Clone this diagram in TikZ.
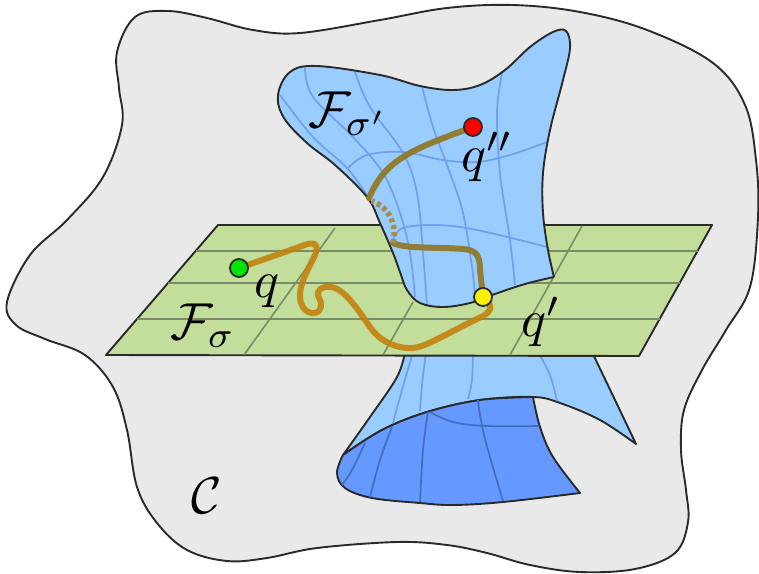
\documentclass[tikz,border=0pt]{standalone}
\definecolor{graybg}{HTML}{E9E9E9}
\definecolor{planeg}{HTML}{C3DD9A}
\definecolor{bluel}{HTML}{99CCFF}
\definecolor{blued}{HTML}{6699FF}
\definecolor{gridb}{HTML}{6F9FEE}
\definecolor{gridd}{HTML}{436EB8}
\definecolor{gridp}{HTML}{7A8C66}
\definecolor{outl}{HTML}{2A2A2A}
\definecolor{tanp}{HTML}{C4820F}
\definecolor{tanb}{HTML}{8F7A2A}
\definecolor{tand}{HTML}{A88C48}
\tikzset{
  edge/.style={draw=outl,line width=1.9pt,line join=round},
  gridblue/.style={draw=gridb,line width=1.7pt},
  griddark/.style={draw=gridd,line width=1.7pt},
  gridplane/.style={draw=gridp,line width=1.6pt},
  pathplane/.style={draw=tanp,line width=6pt,line cap=round,line join=round,opacity=.9},
  pathblue/.style={draw=tanb,line width=6pt,line cap=round,line join=round,opacity=.95},
  pathdot/.style={draw=tand,line width=5.5pt,dash pattern=on 4pt off 3pt},
  dotnode/.style={circle,draw=outl,line width=1.8pt,minimum size=18pt,inner sep=0pt},
  lab/.style={scale=5.2,inner sep=0pt,text=black},
  sm/.style={smooth,tension=.6},
  upperoutline/.style={insert path={plot[sm] coordinates {(554,277) (525,284) (492,295) (470,303) (443,307) (420,303) (407,290) (400,272) (393,253) (380,223) (367,197) (335,165) (307,143) (284,118) (278,95) (290,72) (317,66) (380,75) (420,86) (453,90) (480,85) (505,70) (530,47) (553,32) (566,31) (570,48) (563,80) (550,130) (543,173) (543,213) (548,250) (554,277)}}}
}
\begin{document}
\begin{tikzpicture}[x=1pt,y=-1pt]
\useasboundingbox (0,0) rectangle (759,573);
\fill[white] (0,0) rectangle (759,573);
% outer region
\draw[edge,fill=graybg] plot[smooth cycle,tension=.6] coordinates {
 (7,302) (30,255) (67,220) (103,177) (122,125) (119,88) (117,52) (135,17) (168,11)
 (207,18) (253,30) (300,33) (380,20) (447,8) (513,5) (580,12) (647,30) (713,63)
 (745,105) (756,160) (758,217) (750,287) (726,330) (702,370) (684,410) (681,450) (686,490)
 (688,522) (675,553) (635,569) (580,572) (530,565) (487,553) (447,545) (397,542)
 (317,548) (267,558) (227,561) (187,550) (157,523) (137,487) (127,430) (113,387)
 (85,355) (45,339) (16,325)};
% lower sheet, light part
\draw[edge,fill=bluel] (405,352) -- plot[sm] coordinates {(405,352) (397,377) (370,417) (343,455)}
  -- plot[sm] coordinates {(343,455) (382,430) (427,412) (480,400) (533,397) (560,403) (600,420) (636,444)}
  -- plot[sm] coordinates {(636,444) (615,400) (592,352)} -- cycle;
\draw[gridblue] plot[sm] coordinates {(413,352) (400,397) (392,427)};
\draw[gridblue] plot[sm] coordinates {(426,352) (422,385) (420,411)};
\draw[gridblue] plot[sm] coordinates {(473,352) (472,380) (468,399)};
\draw[gridblue] plot[sm] coordinates {(538,352) (550,375) (557,401)};
% lower sheet, dark part
\draw[edge,fill=blued] plot[sm] coordinates {(343,455) (337,473) (345,488) (372,498) (420,503) (453,505) (503,502) (580,493)}
  -- plot[sm] coordinates {(580,493) (553,457) (540,427) (533,397)}
  -- plot[sm] coordinates {(533,397) (480,400) (427,412) (382,430) (343,455)} -- cycle;
\draw[griddark] plot[sm] coordinates {(365,443) (352,470) (342,485)};
\draw[griddark] plot[sm] coordinates {(392,427) (380,460) (370,497)};
\draw[griddark] plot[sm] coordinates {(428,412) (423,450) (420,502)};
\draw[griddark] plot[sm] coordinates {(478,400) (484,435) (503,501)};
\draw[griddark] plot[sm] coordinates {(430,412) (453,422) (487,426) (538,426)};
% plane
\draw[edge,fill=planeg] (218,225) -- (712,225) -- (639,356) -- (106,355) -- cycle;
\coordinate (qa) at (239,268);
\coordinate (qb) at (483,297);
\coordinate (qc) at (473,127);
\draw[gridplane] (196,251) -- (698,251);
\draw[gridplane] (168,283) -- (680,283);
\draw[gridplane] (137,319) -- (660,319);
\draw[gridplane] (335,228) -- (244,355);
\draw[gridplane] (413,302) -- (383,355);
\draw[gridplane] (582,226) -- (510,355);
% path on plane
\draw[pathplane] (qa) -- (302,246) .. controls (313,241) and (320,243) .. (315,255)
  .. controls (308,270) and (300,282) .. (300,296)
  .. controls (300,308) and (308,314) .. (314,313)
  .. controls (323,312) and (322,302) .. (319,298)
  .. controls (315,290) and (322,286) .. (331,287)
  .. controls (345,289) and (358,310) .. (370,327)
  .. controls (380,342) and (398,349) .. (413,348)
  .. controls (425,347) and (440,337) .. (483,316)
  .. controls (490,312) and (495,306) .. (qb);
% upper sheet
\path[fill=bluel,upperoutline];
\begin{scope}
\clip[upperoutline];
\draw[gridblue] plot[sm] coordinates {(280,95) (313,137) (347,168) (368,197)};
\draw[gridblue] plot[sm] coordinates {(305,68) (313,97) (353,137) (383,173) (400,213) (410,253) (415,297)};
\draw[gridblue] plot[sm] coordinates {(355,72) (370,107) (403,153) (417,193) (423,253) (427,306)};
\draw[gridblue] plot[sm] coordinates {(422,86) (433,127) (450,173) (463,213) (472,267) (475,297)};
\draw[gridblue] plot[sm] coordinates {(502,73) (497,113) (500,173) (510,240) (515,285)};
\draw[gridblue] plot[sm] coordinates {(348,168) (367,155) (403,152) (443,160) (477,162) (510,155) (547,142)};
\draw[gridblue] plot[sm] coordinates {(393,240) (403,228) (437,225) (477,230) (547,247)};
\end{scope}
\draw[edge,upperoutline];
% path on upper sheet
\draw[pathblue] (qb) -- (480,270) .. controls (480,255) and (476,250) .. (463,249)
  .. controls (440,247) and (405,249) .. (393,243);
\draw[pathdot] (393,243) .. controls (397,225) and (390,208) .. (372,201);
\draw[pathblue] (369,198) .. controls (385,160) and (410,150) .. (qc);
% end points
\node[dotnode,fill=green!90!black] (q) at (qa) {};
\node[dotnode,fill=yellow] (qp) at (qb) {};
\node[dotnode,fill=red] (qpp) at (qc) {};
% labels
\node[lab] (lFs) at (203,326) {$\mathcal{F}_{\sigma}$};
\node[lab] (lFsp) at (348,114) {$\mathcal{F}_{\sigma'}$};
\node[lab] (lq) at (267,291) {$q$};
\node[lab] (lqp) at (541,322) {$q'$};
\node[lab] (lqpp) at (487,157) {$q''$};
\node[lab] (lC) at (207,496) {$\mathcal{C}$};
\end{tikzpicture}
\end{document}
